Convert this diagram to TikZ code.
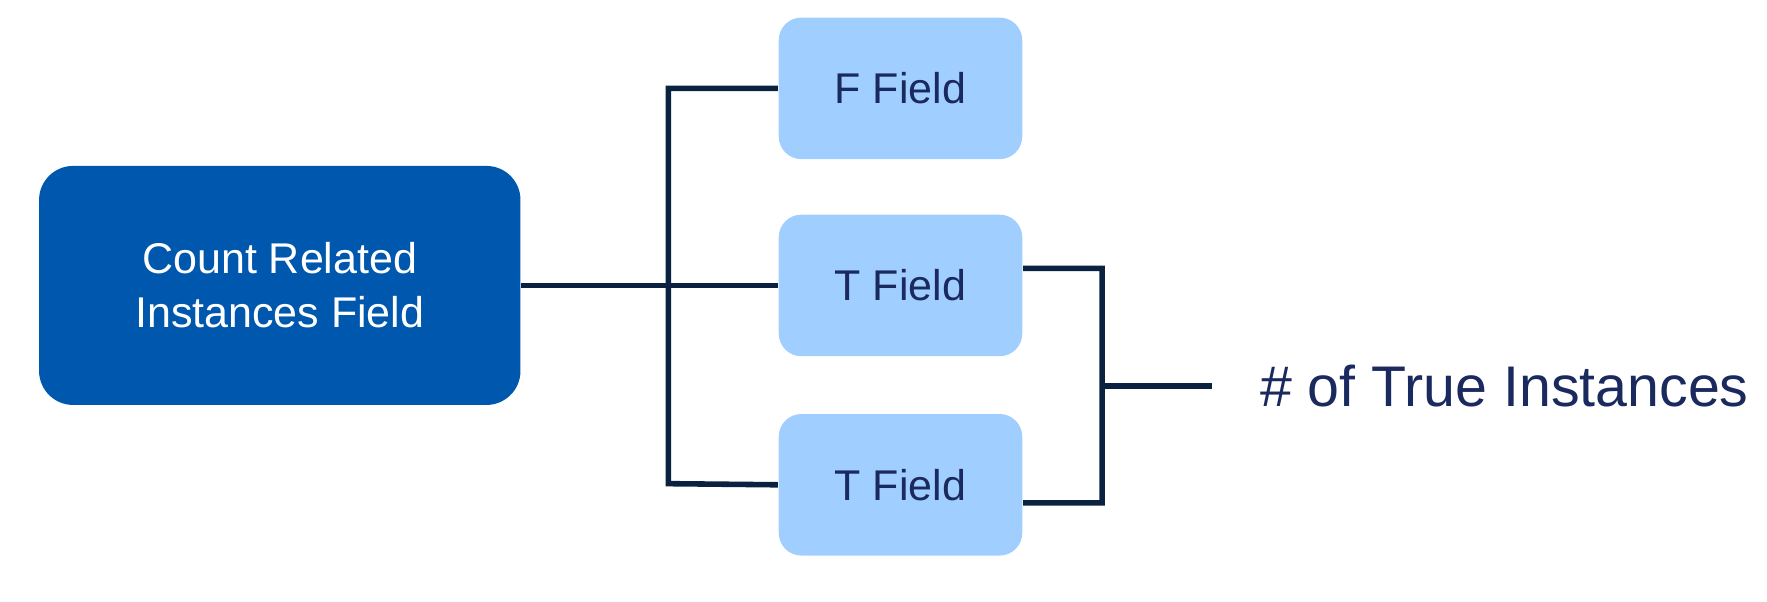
\documentclass[tikz,border=0pt]{standalone}
\usepackage{fontspec}
\setmainfont{Liberation Sans}
\usepackage{xcolor}
\definecolor{d1}{HTML}{0057AE}
\definecolor{l1}{HTML}{A0CFFF}
\definecolor{t1}{HTML}{1A2A5E}
\definecolor{k1}{HTML}{0A2240}
\tikzset{
  main/.style={fill=d1,rounded corners=3mm,minimum width=4.25cm,minimum height=2.11cm,
    text=white,align=center,font=\fontsize{10.8}{13.5}\selectfont},
  field/.style={fill=l1,rounded corners=2mm,minimum width=2.15cm,minimum height=1.25cm,
    text=t1,font=\fontsize{10.8}{13}\selectfont},
  wire/.style={draw=k1,line width=1.4pt}
}

\begin{document}
\begin{tikzpicture}[x=0.1mm,y=-0.1mm]
  \useasboundingbox (0,0) rectangle (1560,531);
  \node[main] (count) at (247,252) {Count Related\\Instances Field};
  \node[field] (f1) at (795,78) {F Field};
  \node[field] (t1) at (795,252) {T Field};
  \node[field] (t2) at (795,428) {T Field};
  \coordinate (out) at (1070,341);
  \node[anchor=west,text=t1,font=\fontsize{14.4}{17}\selectfont] (res) at (1100,341) {\# of True Instances};

  \draw[wire] (count.east) -- (t1.west);
  \draw[wire] (f1.west) -| (590,427) -- (t2.west);
  \draw[wire] ([yshift=0.15cm]t1.east) -| (973,444) -- ([yshift=-0.16cm]t2.east);
  \draw[wire] (973,341) -- (out);
\end{tikzpicture}
\end{document}
